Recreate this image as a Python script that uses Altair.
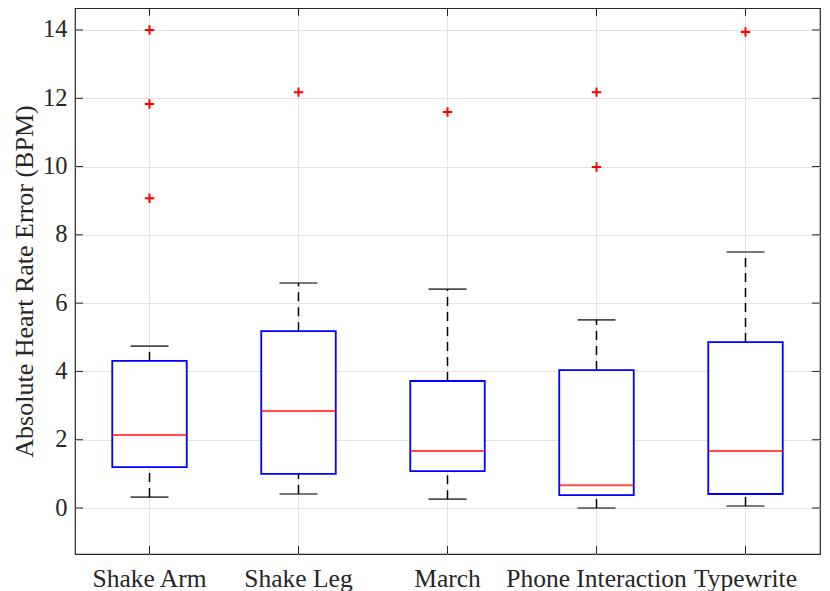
import altair as alt
import pandas as pd

categories = ["Shake Arm", "Shake Leg", "March", "Phone Interaction", "Typewrite"]
lower_whisker = [0.32, 0.41, 0.26, 0.00, 0.06]
q1 = [1.20, 1.00, 1.08, 0.38, 0.41]
median = [2.14, 2.84, 1.67, 0.67, 1.67]
q3 = [4.31, 5.18, 3.72, 4.04, 4.86]
upper_whisker = [4.74, 6.59, 6.41, 5.51, 7.50]

outlier_cat = ["Shake Arm", "Shake Arm", "Shake Arm", "Shake Leg", "March",
               "Phone Interaction", "Phone Interaction", "Typewrite"]
outlier_val = [14.0, 11.83, 9.07, 12.18, 11.60, 12.18, 9.99, 13.94]

y_ticks = [0, 2, 4, 6, 8, 10, 12, 14]

stats = pd.DataFrame({
    "cat": categories, "lw": lower_whisker, "q1": q1, "med": median,
    "q3": q3, "uw": upper_whisker,
})
outl = pd.DataFrame({"cat": outlier_cat, "val": outlier_val})
yt = pd.DataFrame({"v": y_ticks})
xt = pd.DataFrame({"cat": categories})

W, H = 745, 546
FONT = "Liberation Serif"
DARK = "#262626"
YTITLE = "Absolute Heart Rate Error (BPM)"

xscale = alt.Scale(domain=categories, paddingInner=0, paddingOuter=0)
yscale = alt.Scale(domain=[-1.347, 14.644], nice=False, zero=False)

xax = alt.Axis(title=None, labelAngle=0, labelFont=FONT, labelFontSize=25.5,
               labelColor=DARK, labelPadding=12, labelLimit=0, tickSize=0,
               domain=False, grid=True, gridColor="#e3e3e3", gridWidth=1,
               bandPosition=0.5)
yax = alt.Axis(title=YTITLE, titleFont=FONT,
               titleFontSize=26, titleFontWeight="normal", titleColor=DARK,
               titlePadding=5, values=y_ticks, labelFont=FONT, labelFontSize=24.5,
               labelColor=DARK, labelPadding=8, tickSize=0, domain=False,
               grid=True, gridColor="#e3e3e3", gridWidth=1)


def X():
    return alt.X("cat:N", scale=xscale, axis=xax, sort=categories, title=None)


def Y(field):
    return alt.Y(field, scale=yscale, axis=yax, title=YTITLE)


base = alt.Chart(stats)

upper = base.mark_rule(color="black", strokeWidth=1.5, strokeDash=[9, 6]).encode(
    x=X(), y=Y("q3:Q"), y2="uw:Q")
lower = base.mark_rule(color="black", strokeWidth=1.5, strokeDash=[9, 6]).encode(
    x=X(), y=Y("lw:Q"), y2="q1:Q")

caps_u = base.mark_tick(color="black", size=38, thickness=1.6, orient="horizontal").encode(
    x=X(), y=Y("uw:Q"))
caps_l = base.mark_tick(color="black", size=38, thickness=1.6, orient="horizontal").encode(
    x=X(), y=Y("lw:Q"))

box = base.mark_bar(width=alt.RelativeBandSize(0.5), fill="white", fillOpacity=1,
                    stroke="#0000ff", strokeWidth=1.8).encode(
    x=X(), y=Y("q1:Q"), y2="q3:Q")

med = base.mark_tick(color="#ff0000", size=74, thickness=2, orient="horizontal").encode(
    x=X(), y=Y("med:Q"))

pts = alt.Chart(outl).mark_point(
    shape="M-1,0L1,0M0,-1L0,1", size=90, color="#ff0000", strokeWidth=2,
    filled=False, opacity=1).encode(
    x=X(), y=Y("val:Q"))

# inward ticks (MATLAB style) on all four sides
ytick_l = alt.Chart(yt).mark_rule(color=DARK, strokeWidth=1).encode(
    y=Y("v:Q"), x=alt.value(0), x2=alt.value(8))
ytick_r = alt.Chart(yt).mark_rule(color=DARK, strokeWidth=1).encode(
    y=Y("v:Q"), x=alt.value(W - 8), x2=alt.value(W))
xtick_b = alt.Chart(xt).mark_rule(color=DARK, strokeWidth=1).encode(
    x=X(), y=alt.value(H - 8), y2=alt.value(H))
xtick_t = alt.Chart(xt).mark_rule(color=DARK, strokeWidth=1).encode(
    x=X(), y=alt.value(0), y2=alt.value(8))

chart = alt.layer(
    upper, lower, caps_u, caps_l, box, med, pts,
    ytick_l, ytick_r, xtick_b, xtick_t
).properties(
    width=W, height=H,
    autosize=alt.AutoSizeParams(type="none"),
    padding={"left": 67, "top": 0, "right": 2, "bottom": 37},
    background="white",
).configure_view(stroke=DARK, strokeWidth=1.2)

chart.save("out.html", embed_options={"renderer": "svg", "actions": False})
